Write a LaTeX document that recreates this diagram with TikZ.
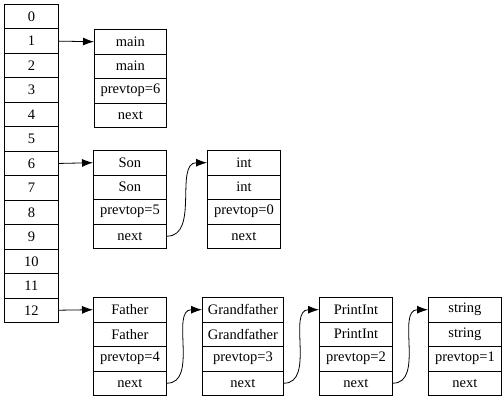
\documentclass[tikz,border=0pt]{standalone}
\usepackage{fontspec}
\setmainfont{Liberation Serif}
\usetikzlibrary{arrows.meta}
\begin{document}
\begin{tikzpicture}[x=1pt,y=-1pt,
  cell/.style={draw=black,line width=0.9pt,inner sep=0pt,minimum height=24.5pt,anchor=north west,font=\fontsize{14.5}{16}\selectfont},
  link/.style={line width=0.8pt,-{Latex[length=11pt,width=8pt]}}]
\useasboundingbox (0,0) rectangle (504,400);
% stack
\foreach \i in {0,...,12}{
  \node[cell,minimum width=54pt,minimum height=24.46pt] (s\i) at (4,{4+24.46*\i}) {\i};
}
% records: name, x, y, width, label1, label2, prevtop
\newcommand\rec[7]{%
  \node[cell,minimum width=#4pt] (#1a) at (#2,#3) {#5};
  \node[cell,minimum width=#4pt] (#1b) at (#2,#3+24.5) {#6};
  \node[cell,minimum width=#4pt] (#1c) at (#2,#3+49) {prevtop=#7};
  \node[cell,minimum width=#4pt] (#1d) at (#2,#3+73.5) {next};
}
\rec{m}{94}{29}{72}{main}{main}{6}
\rec{so}{93}{150}{73}{Son}{Son}{5}
\rec{in}{207}{150}{73}{int}{int}{0}
\rec{fa}{93}{297}{73}{Father}{Father}{4}
\rec{gf}{202}{297}{81}{Grandfather}{Grandfather}{3}
\rec{pi}{319}{297}{73}{PrintInt}{PrintInt}{2}
\rec{st}{428}{297}{73}{string}{string}{1}
% links
\draw[link] (s1.east) -- (ma.west);
\draw[link] (s6.east) -- (soa.west);
\draw[link] (s12.east) -- (faa.west);
\draw[link] (sod.east) to[out=0,in=180] (ina.west);
\draw[link] (fad.east) to[out=0,in=180] (gfa.west);
\draw[link] (gfd.east) to[out=0,in=180] (pia.west);
\draw[link] (pid.east) to[out=0,in=180] (sta.west);
\end{tikzpicture}
\end{document}
